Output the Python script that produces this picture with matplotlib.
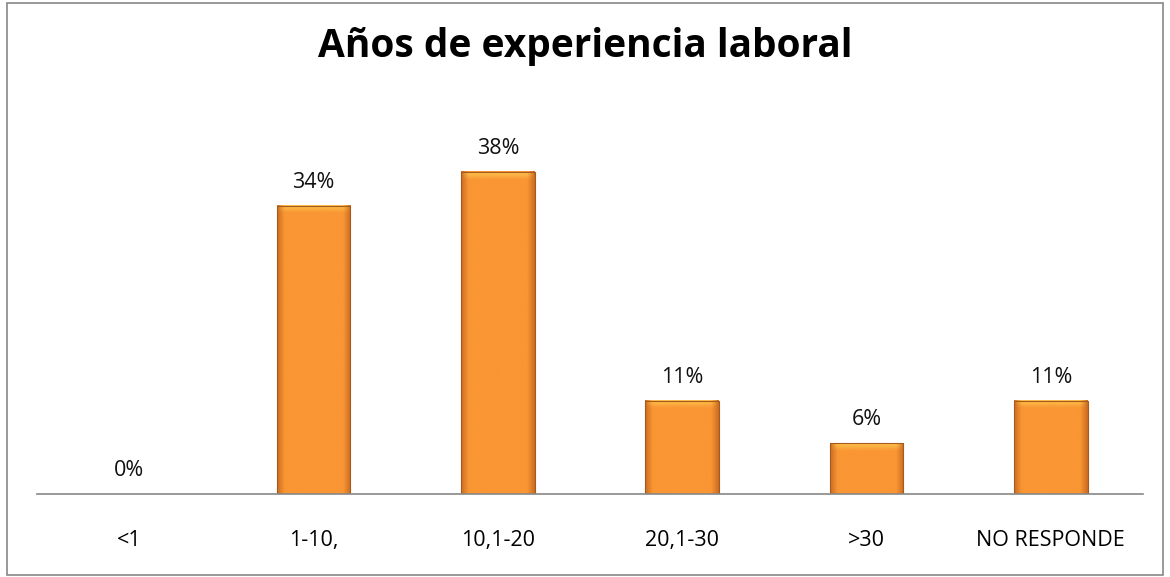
import matplotlib.pyplot as plt
import matplotlib.patches as mpatches
import numpy as np

categorias = ['<1', '1-10,', '10,1-20', '20,1-30', '>30', 'NO RESPONDE']
porcentajes = [0, 34, 38, 11, 6, 11]

plt.rcParams['font.family'] = ['Open Sans', 'DejaVu Sans']

fig = plt.figure(figsize=(11.7, 5.77), dpi=100)
ax = fig.add_axes([37 / 1170, (577 - 494) / 577, (1143 - 37) / 1170, (494 - 155) / 577])

x = np.arange(len(categorias))
bars = ax.bar(x, porcentajes, width=0.40, color='none', edgecolor='none', zorder=2)

# gradiente horizontal: bordes oscuros, centro claro
grad = np.linspace(0, 1, 64)
prof = np.clip(np.minimum(grad, 1 - grad) / 0.1, 0, 1)
c_edge = np.array([205, 110, 35]) / 255
c_mid = np.array([250, 150, 52]) / 255
img = (c_edge[None, :] * (1 - prof[:, None]) + c_mid[None, :] * prof[:, None])[None, :, :]
for b in bars:
    h = b.get_height()
    if h <= 0:
        continue
    x0 = b.get_x()
    w = b.get_width()
    ax.imshow(img, extent=(x0, x0 + w, 0, h), aspect='auto', zorder=3, interpolation='bicubic')
    # brillo en la parte superior
    top = np.linspace(1, 0, 16)[:, None]
    hl = np.zeros((16, 64, 4))
    hl[..., 0] = 1.0
    hl[..., 1] = 0.85
    hl[..., 2] = 0.35
    hl[..., 3] = top * 0.7 * prof[None, :]
    ax.imshow(hl, extent=(x0, x0 + w, h - 0.9, h), aspect='auto', zorder=4, interpolation='bicubic')
    ax.add_patch(mpatches.Rectangle((x0, 0), w, h, fill=False, edgecolor='#a65a1e', lw=0.8, zorder=5))

for xi, v in zip(x, porcentajes):
    ax.text(xi, v + 1.5, f'{v}%', ha='center', va='bottom', fontsize=15.5, color='#111111')

ax.set_xlim(-0.5, len(categorias) - 0.5)
ax.set_ylim(0, 40)
ax.set_yticks([])
ax.set_xticks(x)
ax.set_xticklabels(categorias, fontsize=15.5)
ax.tick_params(axis='x', length=0, pad=26)
for s in ['top', 'right', 'left']:
    ax.spines[s].set_visible(False)
ax.spines['bottom'].set_color('#888888')
ax.spines['bottom'].set_linewidth(1.2)
ax.spines['bottom'].set_zorder(6)

fig.text(0.5, 1 - 47 / 577, 'Años de experiencia laboral', ha='center', va='center',
         fontsize=28, fontweight='bold')

fig.patches.append(mpatches.Rectangle((7 / 1170, 2 / 577), 1156 / 1170, 572 / 577,
                                      transform=fig.transFigure, fill=False,
                                      edgecolor='#888888', lw=1.2))

fig.savefig('out.png', dpi=100)
